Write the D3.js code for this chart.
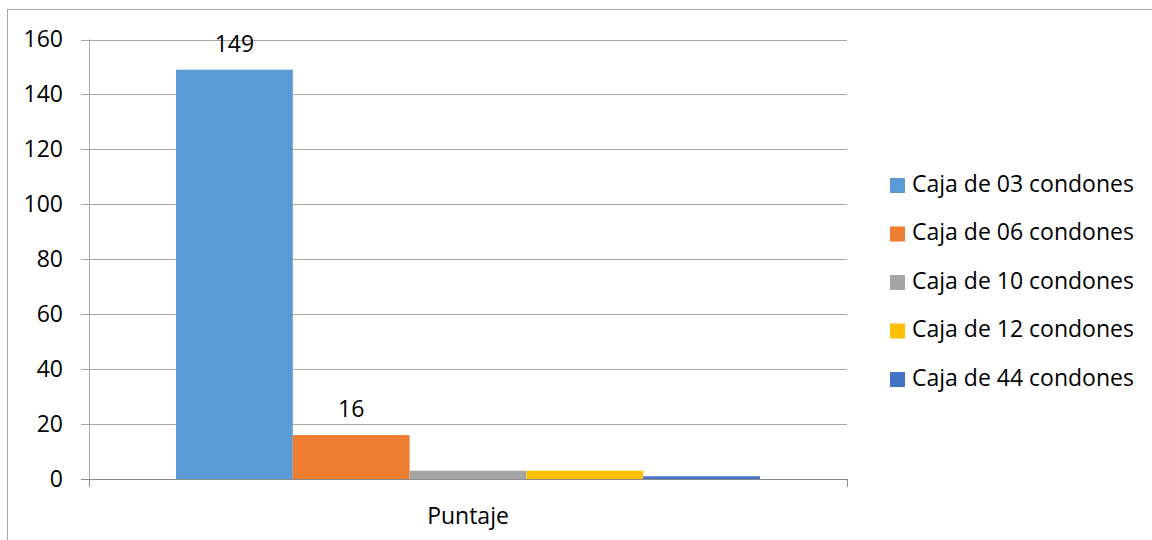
<!DOCTYPE html>
<html>
<head>
<meta charset="utf-8">
<script src="https://cdn.jsdelivr.net/npm/d3@7"></script>
<style>
  html, body { margin: 0; padding: 0; background: #fff; }
  svg { display: block; font-family: "Open Sans", "Noto Sans", sans-serif; }
</style>
</head>
<body>
<svg id="chart" width="1152" height="540"></svg>
<script>
// Categories and values
const category = ["Puntaje"];
const seriesNames = ["Caja de 03 condones", "Caja de 06 condones", "Caja de 10 condones", "Caja de 12 condones", "Caja de 44 condones"];
const seriesValues = [149, 16, 3, 3, 1];
const seriesColors = ["#5b9bd5", "#ed7d31", "#a5a5a5", "#ffc000", "#4472c4"];
const showValueLabel = [true, true, false, false, false];
const yTicks = [0, 20, 40, 60, 80, 100, 120, 140, 160];

const fontSize = 23;
const svg = d3.select("#chart");

// chart frame
svg.append("rect")
  .attr("x", 7.5).attr("y", 9.5)
  .attr("width", 1160).attr("height", 560)
  .attr("fill", "none").attr("stroke", "#a6a6a6").attr("stroke-width", 1);

const plot = { left: 89, right: 847, top: 39.5, bottom: 479 };

const y = d3.scaleLinear().domain([0, 160]).range([plot.bottom, plot.top]);
const x0 = d3.scaleBand().domain(category).range([plot.left, plot.right]).paddingInner(0).paddingOuter(0);
// bars fill the category band minus a gap on either side
const x1 = d3.scaleBand().domain(seriesNames)
  .range([x0(category[0]) + 87, x0(category[0]) + x0.bandwidth() - 87]);

// tick labels
const yAxis = d3.axisLeft(y).tickValues(yTicks).tickSize(0).tickPadding(26);
const gY = svg.append("g").attr("transform", `translate(${plot.left},0)`).call(yAxis);
gY.select(".domain").remove();
gY.selectAll(".tick text").attr("font-size", fontSize).attr("fill", "#000")
  .attr("font-family", "\"Open Sans\", sans-serif");

// gridlines with tick stubs to the left of the axis
svg.append("g").selectAll("line").data(yTicks).join("line")
  .attr("x1", plot.left - 8).attr("x2", plot.right)
  .attr("y1", d => Math.round(y(d)) + 0.5).attr("y2", d => Math.round(y(d)) + 0.5)
  .attr("stroke", d => d === 0 ? "#8c8c8c" : "#a6a6a6").attr("stroke-width", 1);

// vertical axis line
svg.append("line")
  .attr("x1", plot.left + 0.5).attr("x2", plot.left + 0.5)
  .attr("y1", plot.top).attr("y2", plot.bottom + 8)
  .attr("stroke", "#a6a6a6");

// category boundary ticks on the x axis
svg.append("g").selectAll("line").data([plot.left, plot.right]).join("line")
  .attr("x1", d => d + 0.5).attr("x2", d => d + 0.5)
  .attr("y1", plot.bottom).attr("y2", plot.bottom + 8)
  .attr("stroke", "#8c8c8c");

// bars
const bars = svg.append("g");
bars.selectAll("rect").data(seriesNames).join("rect")
  .attr("x", d => x1(d))
  .attr("width", x1.bandwidth())
  .attr("y", (d, i) => y(seriesValues[i]))
  .attr("height", (d, i) => y(0) - y(seriesValues[i]))
  .attr("fill", (d, i) => seriesColors[i]);

// value labels
svg.append("g").selectAll("text")
  .data(seriesNames.filter((d, i) => showValueLabel[i]))
  .join("text")
  .attr("x", d => x1(d) + x1.bandwidth() / 2)
  .attr("y", d => y(seriesValues[seriesNames.indexOf(d)]) - 18)
  .attr("text-anchor", "middle")
  .attr("font-size", fontSize)
  .attr("fill", "#000")
  .text(d => seriesValues[seriesNames.indexOf(d)]);

// category label
svg.append("text")
  .attr("x", x0(category[0]) + x0.bandwidth() / 2)
  .attr("y", 524)
  .attr("text-anchor", "middle")
  .attr("font-size", fontSize)
  .attr("fill", "#000")
  .text(category[0]);

// legend
const legend = svg.append("g").attr("transform", "translate(890,183)");
const items = legend.selectAll("g").data(seriesNames).join("g")
  .attr("transform", (d, i) => `translate(0,${i * 48.5})`);
items.append("rect")
  .attr("x", 0).attr("y", -5).attr("width", 15).attr("height", 15)
  .attr("fill", (d, i) => seriesColors[i]);
items.append("text")
  .attr("x", 22).attr("y", 2.5)
  .attr("dominant-baseline", "middle")
  .attr("font-size", fontSize)
  .attr("fill", "#000")
  .text(d => d);
</script>
</body>
</html>
